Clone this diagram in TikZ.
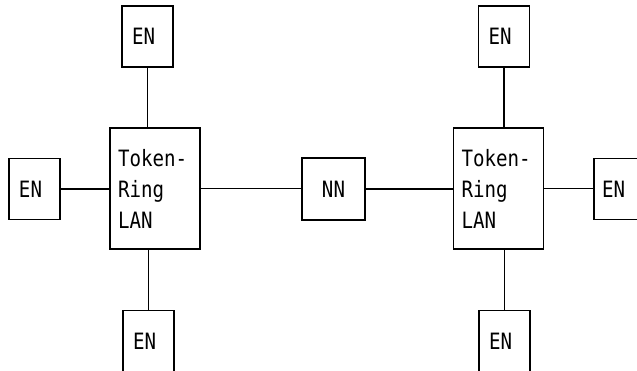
\documentclass[tikz,border=0pt]{standalone}
\usepackage{fontspec}
\setmonofont[FakeStretch=0.85]{DejaVu Sans Mono}
\begin{document}
\begin{tikzpicture}[x=1pt,y=-1pt,
  every node/.style={font=\ttfamily\fontsize{22.5}{31}\selectfont},
  box/.style={draw, line width=1.6pt, inner ysep=0pt, minimum height=#1, align=left},
  endnode/.style={box=61pt, text width=31pt, inner xsep=10pt},
  netnode/.style={box=62pt, minimum width=63pt, inner xsep=0pt, align=center},
  lan/.style={box=121pt, text width=74pt, inner xsep=8pt},
  link/.style={line width=1.6pt}]
\useasboundingbox (0,0) rectangle (637,371);
\clip (0,0) rectangle (637,371);

% left token-ring segment
\node[lan]     (trL)  at (155,188.5) {Token-\\Ring\\LAN};
\node[endnode] (topL) at (147.5,36.5) {EN};
\node[endnode] (enL)  at (34.5,189) {EN};
\node[endnode, minimum height=62pt] (botL) at (148.5,341.5) {EN};

% network node between the two rings
\node[netnode] (nn) at (333.5,189) {NN};

% right token-ring segment
\node[lan]     (trR)  at (498.5,188.5) {Token-\\Ring\\LAN};
\node[endnode] (topR) at (504,36.5) {EN};
\node[endnode, inner xsep=8pt, text width=35pt] (enR) at (619.5,189) {EN};
\node[endnode, minimum height=62pt] (botR) at (504.5,341.5) {EN};

% attachments
\draw[link] (topL.south) -- (topL.south |- trL.north);
\draw[link] (botL.north) -- (botL.north |- trL.south);
\draw[link] (enL.east) -- (enL.east -| trL.west);
\draw[link] (trL.east) -- (trL.east -| nn.west);
\draw[link] (nn.east) -- (nn.east -| trR.west);
\draw[link] (trR.east) -- (trR.east -| enR.west);
\draw[link] (topR.south) -- (topR.south |- trR.north);
\draw[link] (botR.north) -- (botR.north |- trR.south);
\end{tikzpicture}
\end{document}
